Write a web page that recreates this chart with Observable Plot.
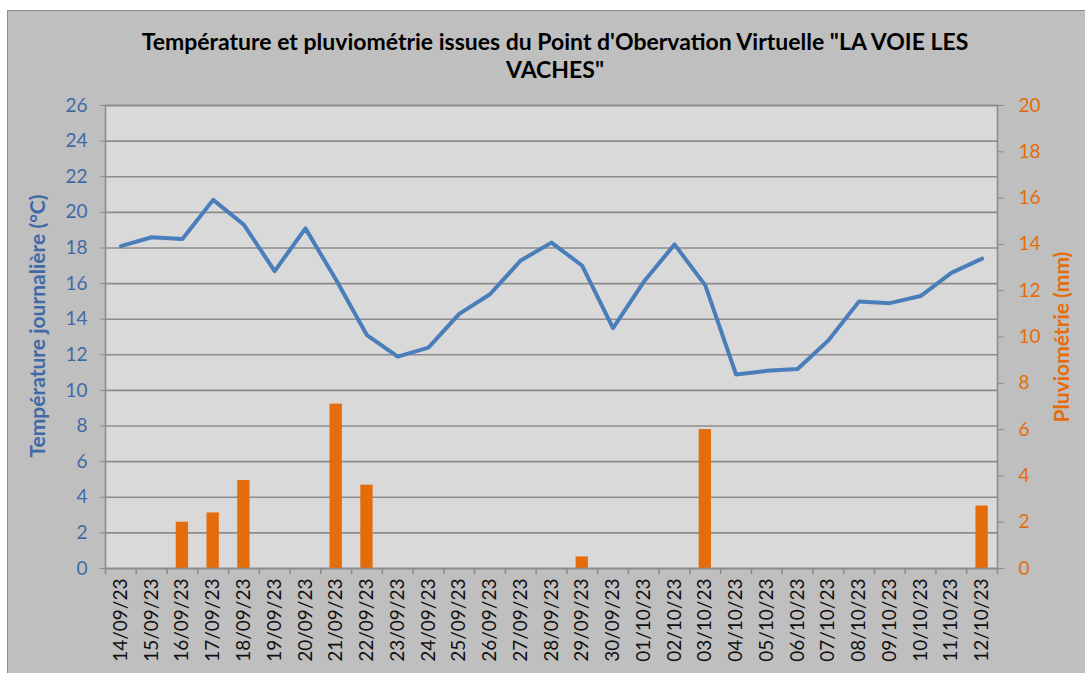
<!DOCTYPE html>
<html>
<head>
<meta charset="utf-8">
<script src="https://cdn.jsdelivr.net/npm/d3@7"></script>
<script src="https://cdn.jsdelivr.net/npm/@observablehq/plot@0.6"></script>
<style>
  html, body { margin: 0; padding: 0; background: #ffffff; }
  #wrap { position: relative; width: 1085px; height: 673px; overflow: hidden; font-family: Lato, "Open Sans", sans-serif; }
  #box { position: absolute; left: 7px; top: 10px; width: 1100px; height: 700px; background: #bfbfbf; border: 1.5px solid #8c8c8c; }
  #title { position: absolute; left: 40px; width: 1030px; top: 27px; text-align: center; font-weight: bold; font-size: 23px; line-height: 28px; color: #000; }
  #chart { position: absolute; left: 0; top: 0; }
</style>
</head>
<body>
<div id="wrap">
  <div id="box"></div>
  <div id="chart"></div>
  <div id="title">Température et pluviométrie issues du Point d'Obervation Virtuelle "LA VOIE LES<br>VACHES"</div>
</div>
<script>
const dates = ["14/09/23","15/09/23","16/09/23","17/09/23","18/09/23","19/09/23","20/09/23","21/09/23","22/09/23","23/09/23","24/09/23","25/09/23","26/09/23","27/09/23","28/09/23","29/09/23","30/09/23","01/10/23","02/10/23","03/10/23","04/10/23","05/10/23","06/10/23","07/10/23","08/10/23","09/10/23","10/10/23","11/10/23","12/10/23"];
const temperature = [18.1,18.6,18.5,20.7,19.3,16.7,19.1,16.2,13.1,11.9,12.4,14.3,15.4,17.3,18.3,17.0,13.5,16.1,18.2,15.9,10.9,11.1,11.2,12.8,15.0,14.9,15.3,16.6,17.4];
const rainfall = [0,0,2.0,2.4,3.8,0,0,7.1,3.6,0,0,0,0,0,0,0.5,0,0,0,6.0,0,0,0,0,0,0,0,0,2.7];
const tempTicks = d3.range(0, 27, 2);
const rainTicks = d3.range(0, 21, 2);

const tempMax = 26, rainMax = 20;
const k = tempMax / rainMax;

const data = dates.map((d, i) => ({date: d, temp: temperature[i], rain: rainfall[i]}));

const W = 1085, H = 673, ML = 105, MR = 88, MT = 105, MB = 105;
const step = (W - ML - MR) / dates.length;
const tickLenY = 6 / ((H - MT - MB) / tempMax);

const blue = "#3f6aa6", orange = "#e46c0a", gridc = "#8c8c8c";

const chart = Plot.plot({
  width: W, height: H,
  marginLeft: ML, marginRight: MR, marginTop: MT, marginBottom: MB,
  style: {fontFamily: "Lato, 'Open Sans', sans-serif", background: "transparent", overflow: "visible"},
  x: {type: "band", domain: dates, paddingInner: 0.6, paddingOuter: 0.3, round: false, label: null},
  y: {domain: [0, tempMax], label: null},
  marks: [
    Plot.frame({fill: "#d9d9d9"}),
    Plot.gridY(tempTicks, {stroke: gridc, strokeOpacity: 1, strokeWidth: 1.6}),
    Plot.barY(data.filter(d => d.rain > 0), {x: "date", y: d => d.rain * k, fill: orange}),
    Plot.line(data, {x: "date", y: "temp", stroke: "#4a7ebb", strokeWidth: 4, strokeLinejoin: "round", strokeLinecap: "round"}),
    Plot.frame({stroke: gridc, strokeWidth: 1.6}),
    Plot.axisY(tempTicks, {anchor: "left", tickSize: 5, tickPadding: 13, stroke: gridc, fill: blue, fontSize: 19, label: null}),
    Plot.axisY(rainTicks.map(v => v * k), {anchor: "right", tickSize: 6, tickPadding: 15, stroke: gridc, fill: orange, fontSize: 19, tickFormat: d => String(Math.round(d / k)), label: null}),
    Plot.axisX({tickSize: 0, tickRotate: -90, tickPadding: 10, fill: "#111", fontSize: 19, label: null}),
    Plot.ruleX(dates, {x: d => d, dx: -step / 2, y1: 0, y2: -tickLenY, stroke: gridc, strokeWidth: 1.6}),
    Plot.ruleX([dates[dates.length - 1]], {x: d => d, dx: step / 2, y1: 0, y2: -tickLenY, stroke: gridc, strokeWidth: 1.6}),
    Plot.text(["Température journalière (°C)"], {frameAnchor: "left", textAnchor: "middle", dx: -67, dy: -11, rotate: -90, fill: blue, fontSize: 21, fontWeight: "bold"}),
    Plot.text(["Pluviométrie (mm)"], {frameAnchor: "right", textAnchor: "middle", dx: 65, dy: 0, rotate: -90, fill: orange, fontSize: 21, fontWeight: "bold"})
  ]
});
document.getElementById("chart").appendChild(chart);
</script>
</body>
</html>
